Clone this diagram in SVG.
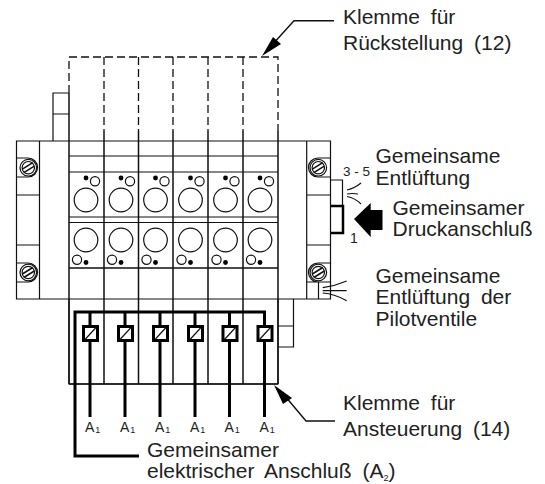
<svg xmlns="http://www.w3.org/2000/svg" width="545" height="484" viewBox="0 0 545 484">
<style>
.l{fill:none;stroke:#111;stroke-width:1.2}
.v{fill:none;stroke:#111;stroke-width:1.5}
.d{fill:none;stroke:#111;stroke-width:1.3;stroke-dasharray:8 4}
.b{fill:none;stroke:#111;stroke-width:1.4}
.k{fill:none;stroke:#000;stroke-width:3}
.f{fill:#000;stroke:none}
text{font-family:"Liberation Sans",Arial,sans-serif;fill:#222;font-size:21px;word-spacing:5px}
.s{font-size:14px;word-spacing:0}
.p{font-size:13.5px;word-spacing:0}
.u{font-size:9px}
</style>
<defs>
<g id="screw"><circle r="8.300" class="l"/><circle r="6.200" class="l"/><path class="l" style="stroke-width:1.500" d="M-6 1.500L4.500-5M-4.500 5L6-1.500"/></g>
<g id="top"><circle cx="17" cy="6" r="2.400" class="f"/><circle cx="26" cy="9.200" r="4.600" class="l"/><circle cx="17" cy="28" r="11.800" class="l"/></g>
<g id="bot"><circle cx="17" cy="240" r="11.800" class="l"/><circle cx="8" cy="259.700" r="4.600" class="l"/><circle cx="17" cy="262.500" r="2.400" class="f"/></g>
<g id="coil"><rect x="-6.500" y="-6.500" width="14" height="14" fill="#fff" stroke="#000" stroke-width="3"/><path class="l" d="M-5 6.500L6-5.500"/></g>
</defs>
<g id="dashed">
<path class="d" d="M69 93V57H278V131M104 57V131M138.500 57V131M173 57V131M208 57V131M243 57V131"/>
</g>
<g id="body">
<path class="l" d="M16.500 141H330.500V299H16.500ZM39.500 141V299M69 299V384H278V299M306.700 141V299M69 156H278M69 172H278M69 217H278M69 222.500H278M39.500 299H69M278 299H330.500"/>
<path class="v" d="M69 93V384M104 131V384M138.500 131V384M173 131V384M208 131V384M243 131V384M278 131V384M69 268H278M69 384H278"/>
<path class="l" d="M16.500 158H28A9.500 9.500 0 0 1 28 177H16.500M16.500 195H39.500M16.500 245H39.500M16.500 263H28A9.500 9.500 0 0 1 28 282H16.500"/>
<path class="l" d="M330.500 158H318A9.500 9.500 0 0 0 318 177H330.500M306.700 195H330.500M306.700 245H330.500M330.500 263H318A9.500 9.500 0 0 0 318 282M306.700 282H330.500M318.500 282V299"/>
</g>
<g id="block-top"><path class="l" d="M53 141V93H69M53 114H69"/></g>
<g id="block-bottom"><path class="l" d="M293.500 299V347H278M278 326H293.500"/></g>
<g id="screws">
<use href="#screw" x="28.300" y="167.700"/><use href="#screw" x="28.300" y="272.500"/>
<use href="#screw" x="318.300" y="167.700"/><use href="#screw" x="318.300" y="272.500"/>
</g>
<g id="valves">
<use href="#top" x="69" y="172"/><use href="#top" x="104" y="172"/><use href="#top" x="138.500" y="172"/><use href="#top" x="173.500" y="172"/><use href="#top" x="208.500" y="172"/><use href="#top" x="243" y="172"/>
<use href="#bot" x="69"/><use href="#bot" x="104"/><use href="#bot" x="138.500"/><use href="#bot" x="173.500"/><use href="#bot" x="208.500"/><use href="#bot" x="243"/>
</g>
<g id="connectors">
<path class="k" d="M139 456H75V312H264.500V417M90 312V417M125 312V417M160 312V417M195 312V417M229.500 312V417"/>
<use href="#coil" x="90" y="333"/><use href="#coil" x="125" y="333"/><use href="#coil" x="160" y="333"/><use href="#coil" x="195" y="333"/><use href="#coil" x="229.500" y="333"/><use href="#coil" x="264.500" y="333"/>
<path class="b" d="M334 20.700H294L272 45"/>
<path class="f" d="M262 56L273 37L281 44Z"/>
<path class="b" d="M335 421H306L285 396"/>
<path class="f" d="M274 385L292 398L283 404Z"/>
</g>
<g id="ports">
<path class="l" d="M330.500 180H342.500V206"/>
<path class="k" style="stroke-width:2.500" d="M330.500 206H343V233H330.500"/>
<path class="l" d="M347 190Q355 188 361 183M347 194Q352 193 358 194M347 196.500Q355 198 361 204"/>
<path class="l" d="M322.700 287.700Q335 286 346.700 281M322.700 290.700H346.700M322.700 293Q335 294 346.700 300.700"/>
<path class="f" d="M354 219L370.700 203V210H382.500V230H370.700V237Z"/>
</g>
<g id="labels">
<text x="343" y="24">Klemme für</text>
<text x="343" y="50">Rückstellung (12)</text>
<text x="375.500" y="163">Gemeinsame</text>
<text x="375.500" y="185">Entlüftung</text>
<text x="392.500" y="215">Gemeinsamer</text>
<text x="392.500" y="236">Druckanschluß</text>
<text x="375.500" y="283">Gemeinsame</text>
<text x="375.500" y="304">Entlüftung der</text>
<text x="375.500" y="326">Pilotventile</text>
<text x="343" y="410">Klemme für</text>
<text x="343" y="436">Ansteuerung (14)</text>
<text x="147" y="457">Gemeinsamer</text>
<text x="147" y="478">elektrischer Anschluß (A<tspan class="u" dy="3">2</tspan><tspan dy="-3">)</tspan></text>
<text class="p" x="343" y="176">3 - 5</text>
<text class="s" x="350" y="243">1</text>
<text class="s" x="85" y="432">A<tspan class="u" dy="1" dx="1">1</tspan></text>
<text class="s" x="120" y="432">A<tspan class="u" dy="1" dx="1">1</tspan></text>
<text class="s" x="155" y="432">A<tspan class="u" dy="1" dx="1">1</tspan></text>
<text class="s" x="190" y="432">A<tspan class="u" dy="1" dx="1">1</tspan></text>
<text class="s" x="224.500" y="432">A<tspan class="u" dy="1" dx="1">1</tspan></text>
<text class="s" x="259.500" y="432">A<tspan class="u" dy="1" dx="1">1</tspan></text>
</g>
</svg>
